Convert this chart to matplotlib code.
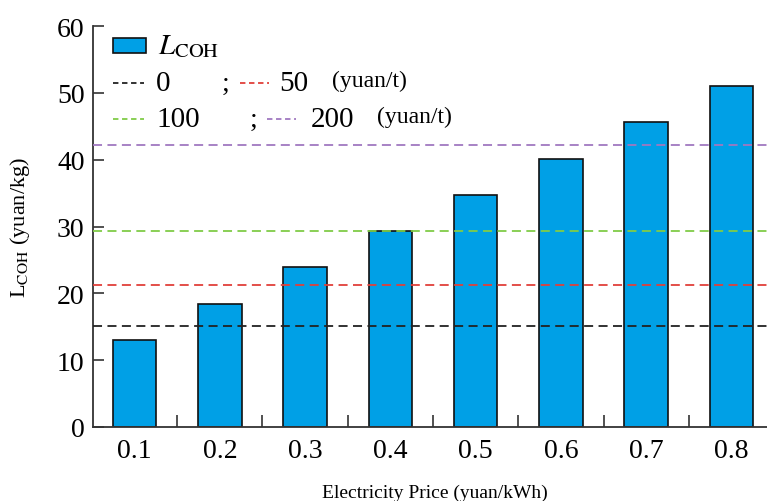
import matplotlib
matplotlib.use("Agg")
import matplotlib.pyplot as plt
from matplotlib.patches import Rectangle
from matplotlib.ticker import FixedLocator

plt.rcParams["font.family"] = "Liberation Serif"
plt.rcParams["mathtext.fontset"] = "stix"

prices = [0.1, 0.2, 0.3, 0.4, 0.5, 0.6, 0.7, 0.8]
lcoh = [13.0, 18.4, 24.0, 29.3, 34.7, 40.1, 45.7, 51.0]
carbon_labels = ["0", "50", "100", "200"]
carbon_levels = [15.1, 21.3, 29.3, 42.2]
carbon_colors = ["#222222", "#e0403a", "#80cc48", "#a078c0"]

fig = plt.figure(figsize=(7.67, 5.02), dpi=100)
ax = fig.add_axes([93 / 767, 74 / 502, 674 / 767, 401 / 502])

ax.bar(prices, lcoh, width=0.051, color="#00a0e6", edgecolor="#111111", linewidth=1.2, zorder=2)
for lvl, col in zip(carbon_levels, carbon_colors):
    ax.axhline(lvl, color=col, linestyle=(0, (5, 3)), linewidth=1.3, zorder=3)

ax.set_xlim(0.0513, 0.8416)
ax.set_ylim(0, 60)
ax.set_yticks(range(0, 61, 10))
ax.set_xticks(prices)
ax.set_xticklabels([f"{p:.1f}" for p in prices])
ax.xaxis.set_minor_locator(FixedLocator([p + 0.05 for p in prices[:-1]]))
ax.tick_params(axis="x", which="major", length=0, labelsize=20, pad=8)
ax.tick_params(axis="x", which="minor", direction="in", length=9, width=1.2, color="#333333")
ax.tick_params(axis="y", direction="in", length=8, width=1.2, labelsize=20, pad=6, color="#333333")
for s in ["top", "right"]:
    ax.spines[s].set_visible(False)
for s in ["left", "bottom"]:
    ax.spines[s].set_linewidth(1.3)
    ax.spines[s].set_color("#333333")

fig.text(20 / 767, 1 - 228 / 502, r"L$_{\mathrm{COH}}$ (yuan/kg)", rotation=90,
         ha="center", va="center", fontsize=16)
fig.text(435 / 767, 1 - 493 / 502, "Electricity Price (yuan/kWh)", ha="center", va="center", fontsize=14)


def ax_x(px):
    return (px - 93) / 674


def ax_y(py):
    return (428 - py) / 401


# legend drawn by hand to keep the original layout
ax.add_patch(Rectangle((ax_x(113), ax_y(54)), ax_x(146) - ax_x(113), ax_y(39) - ax_y(54),
                       transform=ax.transAxes, facecolor="#00a0e6", edgecolor="#111111",
                       linewidth=1.2, clip_on=False, zorder=5))
ax.text(ax_x(158), ax_y(47), r"$L_{\mathrm{COH}}$", transform=ax.transAxes, va="center", fontsize=21)

# (row y, line1 x, label1 x, ';' x, line2 x, label2 x, unit x)
rows = [(84, 113, 156, 222, 240, 279, 332), (120, 113, 156, 250, 267, 311, 377)]
for r, (py, x1, t1, semi, x2, t2, unit) in enumerate(rows):
    ca, cb = carbon_colors[2 * r], carbon_colors[2 * r + 1]
    la, lb = carbon_labels[2 * r], carbon_labels[2 * r + 1]
    ax.plot([ax_x(x1), ax_x(x1 + 31)], [ax_y(py)] * 2, color=ca, linestyle=(0, (3, 2)),
            linewidth=1.3, transform=ax.transAxes, clip_on=False)
    ax.text(ax_x(t1), ax_y(py), la, transform=ax.transAxes, va="center", fontsize=21)
    ax.text(ax_x(semi), ax_y(py), ";", transform=ax.transAxes, va="center", fontsize=20)
    ax.plot([ax_x(x2), ax_x(x2 + 29)], [ax_y(py)] * 2, color=cb, linestyle=(0, (3, 2)),
            linewidth=1.3, transform=ax.transAxes, clip_on=False)
    ax.text(ax_x(t2), ax_y(py), lb, transform=ax.transAxes, va="center", fontsize=21)
    ax.text(ax_x(unit), ax_y(py - 3), "(yuan/t)", transform=ax.transAxes, va="center", fontsize=17)

fig.savefig("out.png", dpi=100)
